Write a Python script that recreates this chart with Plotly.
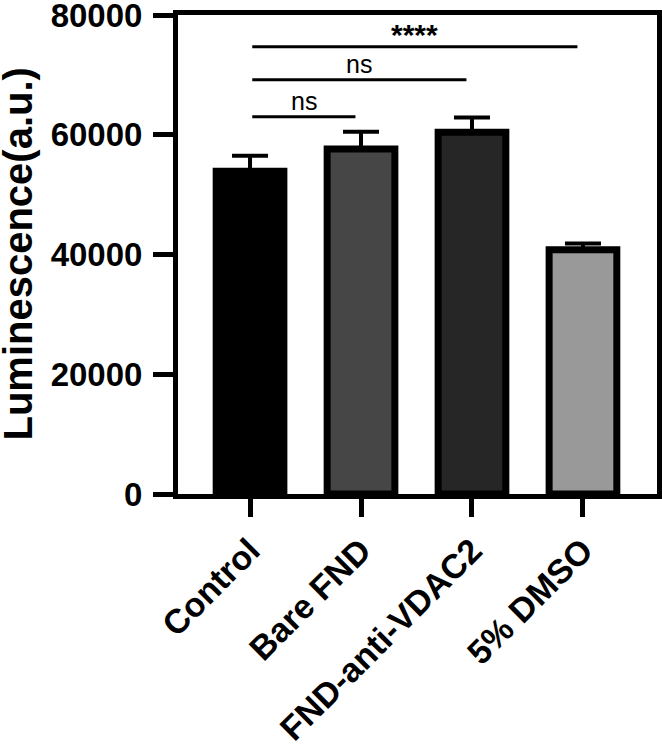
import plotly.graph_objects as go

categories = ["Control", "Bare FND", "FND-anti-VDAC2", "5% DMSO"]
means = [53900, 57600, 60400, 40800]
errors = [2600, 2900, 2500, 1050]
fill_colors = ["#000000", "#464646", "#262626", "#999999"]

y_ticks = [0, 20000, 40000, 60000, 80000]

# significance brackets: (start index, end index, bar height value, label)
sig_start = [0, 0, 0]
sig_end = [1, 2, 3]
sig_y = [63000, 69200, 74700]
sig_labels = ["ns", "ns", "****"]

FONT = "Liberation Sans, Arial, sans-serif"

fig = go.Figure()
fig.add_trace(go.Bar(
    x=list(range(len(categories))),
    y=means,
    width=0.61,
    marker=dict(color=fill_colors, line=dict(color="#000000", width=7)),
    error_y=dict(type="data", symmetric=False, array=errors,
                 arrayminus=[0] * len(errors), color="#000000",
                 thickness=4, width=18),
    showlegend=False,
    hoverinfo="skip",
))

shapes = []
annotations = []
for s, e, yv, lab in zip(sig_start, sig_end, sig_y, sig_labels):
    shapes.append(dict(type="line", xref="x", yref="y", x0=s + 0.02, x1=e - 0.05,
                       y0=yv, y1=yv, line=dict(color="#000000", width=3)))
    bold = lab.startswith("*")
    annotations.append(dict(
        x=(s + 0.02 + e - 0.05) / 2, y=yv, xref="x", yref="y",
        text=lab, showarrow=False, yanchor="bottom", yshift=(-6 if bold else 0),
        font=dict(family=FONT, size=(30 if bold else 25), color="#000000",
                  weight=("bold" if bold else "normal")),
    ))

annotations.append(dict(
    x=-0.336, y=0.5, xref="paper", yref="paper", text="Luminescence(a.u.)",
    textangle=-90, showarrow=False, xanchor="center", yanchor="middle",
    font=dict(family=FONT, size=40, color="#000000", weight="bold"),
))

fig.update_layout(
    width=662, height=751,
    margin=dict(l=178, r=5, t=15, b=257, autoexpand=False),
    paper_bgcolor="white", plot_bgcolor="white",
    shapes=shapes, annotations=annotations,
    xaxis=dict(
        range=[-0.649, 3.667],
        tickmode="array", tickvals=list(range(len(categories))), ticktext=categories,
        tickangle=-45, ticks="outside", ticklen=18, tickwidth=5, tickcolor="#000000",
        showline=True, linewidth=5, linecolor="#000000", mirror=True,
        showgrid=False, zeroline=False, ticklabeloverflow="allow",
        tickfont=dict(family=FONT, size=34, color="#000000", weight="bold"),
    ),
    yaxis=dict(
        range=[0, 80000],
        tickmode="array", tickvals=y_ticks, ticktext=[str(v) for v in y_ticks],
        ticks="outside", ticklen=20, tickwidth=5, tickcolor="#000000",
        showline=True, linewidth=5, linecolor="#000000", mirror=True,
        showgrid=False, zeroline=False, ticklabeloverflow="allow",
        ticklabelstandoff=4,
        tickfont=dict(family=FONT, size=33, color="#000000", weight="bold"),
    ),
)

fig.write_html("out.html", config={"displayModeBar": False},
               post_script="document.body.style.margin='0px';")
